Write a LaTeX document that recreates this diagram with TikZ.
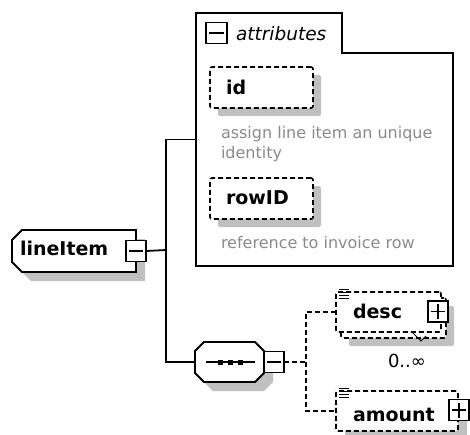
\documentclass[tikz,border=0pt]{standalone}
\usepackage{fontspec}
\usetikzlibrary{positioning,shadows}
\newfontfamily\diagfont{DejaVu Sans}
\definecolor{Shade}{HTML}{C0C0C0}
\definecolor{NoteGrey}{HTML}{8A8A8A}

\tikzset{
  edge/.style={line width=1.8pt},
  dedge/.style={line width=1.6pt,dash pattern=on 5pt off 3pt},
  shad/.style={drop shadow={shadow xshift=#1,shadow yshift=-#1,fill=Shade,opacity=1}},
  shad/.default=9pt,
  outline/.style={draw,fill=white,line width=1.8pt},
  elbox/.style={draw,fill=white,line width=1.6pt,dash pattern=on 5pt off 3pt,rounded corners=2pt},
  minusbtn/.style={draw,fill=white,line width=1.6pt,minimum width=20pt,minimum height=21pt,
    path picture={\draw[line width=1.6pt] ([xshift=3pt]path picture bounding box.west)
      -- ([xshift=-3pt]path picture bounding box.east);}},
  plusbtn/.style={draw,fill=white,line width=1.6pt,minimum width=20pt,minimum height=21pt,
    path picture={\draw[line width=1.6pt] ([xshift=3pt]path picture bounding box.west)
      -- ([xshift=-3pt]path picture bounding box.east)
      ([yshift=-3pt]path picture bounding box.north) -- ([yshift=3pt]path picture bounding box.south);}},
  elname/.style={font=\diagfont\bfseries\fontsize{19}{22}\selectfont,anchor=base west},
  grpname/.style={font=\diagfont\itshape\fontsize{18.5}{22}\selectfont,anchor=base west},
  note/.style={font=\diagfont\fontsize{16}{20}\selectfont,text=NoteGrey,anchor=base west,align=left},
  mult/.style={font=\diagfont\fontsize{18}{20}\selectfont,anchor=base west},
}

\begin{document}
\begin{tikzpicture}[x=1pt,y=-1pt,every node/.style={inner sep=0pt,outer sep=0pt}]
\clip (0,0) rectangle (470,434);

% attributes group
\node[minimum width=257pt,minimum height=253pt] (attrs) at (324.5,139.5) {};
\draw[edge] (attrs.north west) -- ++(146,0) |- ([yshift=-40pt]attrs.north east)
  -- (attrs.south east) -- (attrs.south west) -- cycle;
\node[minusbtn,minimum width=21pt] (attrbtn) at ([shift={(20.5,20)}]attrs.north west) {};
\node[grpname] (attrlbl) at (236,40) {attributes};

\node[elbox,shad=8pt,minimum width=103pt,minimum height=41pt] (idbox) at (261.5,87.5) {};
\node[elname] (id) at (226,94) {id};
\node[note] (idnote) at (221,158) {assign line item an unique\\identity};

\node[elbox,shad=8pt,minimum width=103pt,minimum height=41pt] (rowidbox) at (261.5,198.5) {};
\node[elname] (rowid) at (226,204) {rowID};
\node[note] (rowidnote) at (221,248) {reference to invoice row};

% lineItem element
\node[minimum width=124pt,minimum height=42pt] (liframe) at (74,251) {};
\draw[outline,shad] ([xshift=10pt]liframe.north west) -- (liframe.north east)
  -- (liframe.south east) -- ([xshift=10pt]liframe.south west)
  -- ([yshift=10pt]liframe.south west) -- ([yshift=-10pt]liframe.north west) -- cycle;
\node[elname] (lineitem) at (20,255) {lineItem};
\node[minusbtn] (libtn) at (liframe.east) {};

% sequence
\node[minimum width=69pt,minimum height=40pt] (seq) at (229.5,362) {};
\draw[outline,shad] ([xshift=9pt]seq.north west) -- ([xshift=-9pt]seq.north east)
  -- ([yshift=-9pt]seq.north east) -- ([yshift=9pt]seq.south east)
  -- ([xshift=-9pt]seq.south east) -- ([xshift=9pt]seq.south west)
  -- ([yshift=9pt]seq.south west) -- ([yshift=-9pt]seq.north west) -- cycle;
\draw[edge] ([xshift=11pt]seq.west) -- ([xshift=-9pt]seq.east);
\foreach \dx in {-9,1,11}
  \fill ([xshift=\dx pt]seq.center) ++(-2.5,-2.5) rectangle ++(5,5);
\node[minusbtn,right=0pt of seq] (seqbtn) {};

% desc (0..unbounded)
\node[elbox,minimum width=105pt,minimum height=40pt,
  drop shadow={shadow xshift=13pt,shadow yshift=-14pt,fill=Shade,opacity=1},
  copy shadow={shadow xshift=5pt,shadow yshift=-6pt,draw,fill=white,line width=1.6pt,
    dash pattern=on 5pt off 3pt}] (descbox) at (388.5,312) {};
\foreach \dy in {-3,0,3,6}
  \draw[line width=1pt] ([shift={(3,\dy)}]descbox.north west) -- ++(10,0);
\node[elname] (desc) at (353,318) {desc};
\node[plusbtn] (descbtn) at (438,311.5) {};
\draw[line width=0.9pt] ([shift={(-28,1)}]descbox.south east) -- ++(8,8) -- ++(5,-5);
\node[mult] (descmult) at (388,367) {0..∞};

% amount
\node[elbox,shad,minimum width=122pt,minimum height=40pt] (amountbox) at (397,411) {};
\foreach \dy in {-3,0,3,6}
  \draw[line width=1pt] ([shift={(3,\dy)}]amountbox.north west) -- ++(10,0);
\node[elname] (amount) at (353,421) {amount};
\node[plusbtn] (amountbtn) at (459,410) {};

% connectors
\coordinate (fork) at (166,250);
\draw[edge] (libtn.east) -- (fork);
\draw[edge] (attrs.west) -| (fork) |- (seq.west);
\coordinate (dfork) at (306,362);
\draw[dedge] (seqbtn.east) -- (dfork);
\draw[dedge] (descbox.west) -| (dfork) |- (amountbox.west);
\end{tikzpicture}
\end{document}
